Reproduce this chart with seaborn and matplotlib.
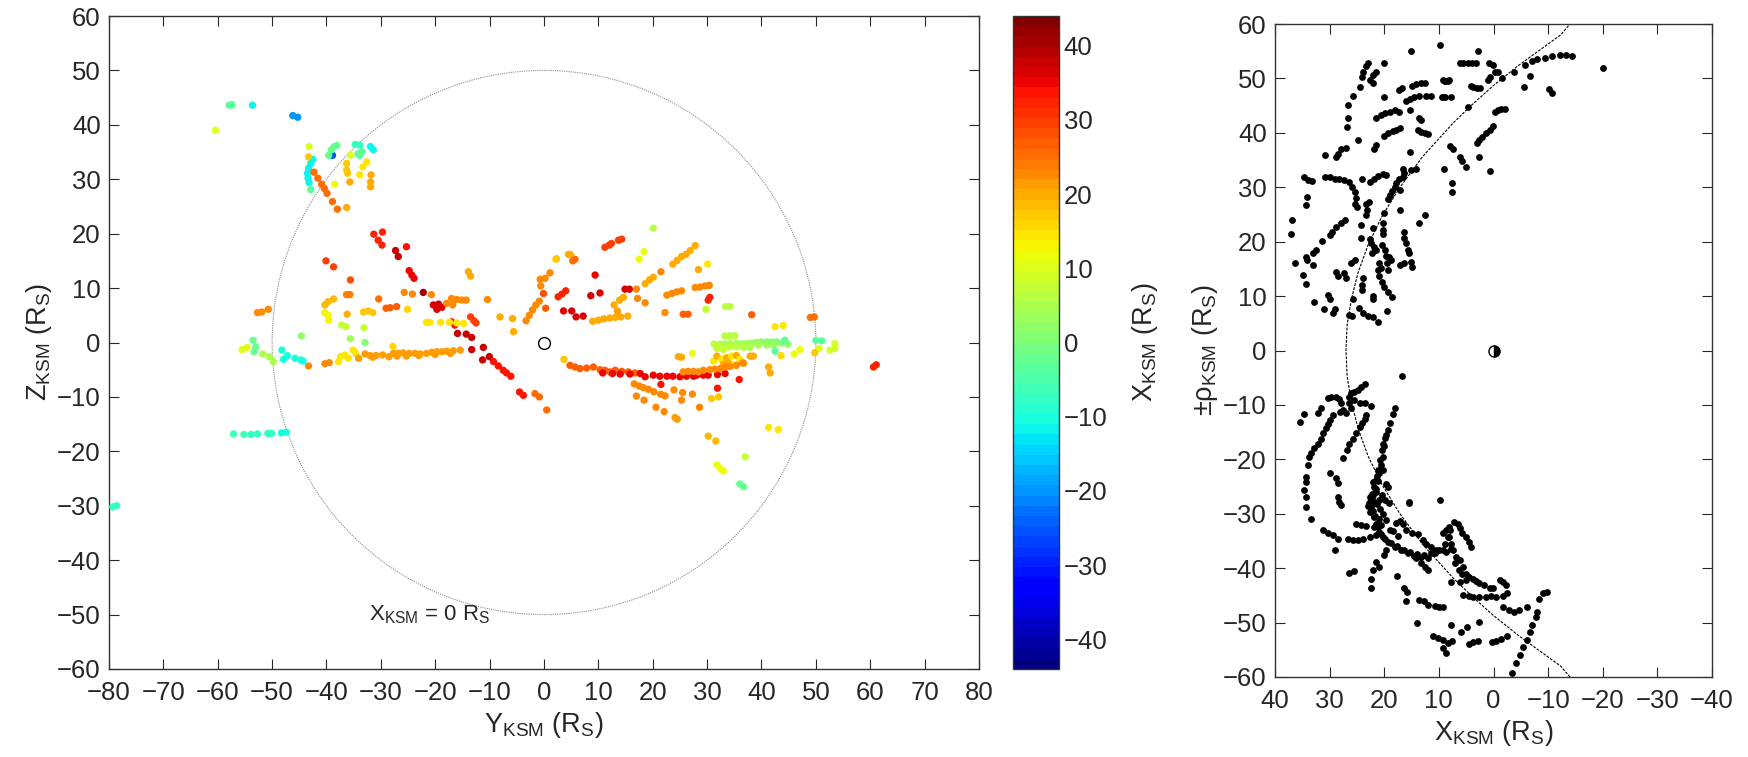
import numpy as np
import pandas as pd
import matplotlib
matplotlib.use("Agg")
import matplotlib.pyplot as plt
import seaborn as sns
from matplotlib.patches import Circle
from matplotlib.colors import ListedColormap, Normalize
from matplotlib.cm import ScalarMappable

# ---------------- data: left panel (Y_KSM, Z_KSM, colour = X_KSM) ----------------
y_top = [-60.4, -57.9, -57.4, -53.6, -46.2, -45.3]
z_top = [39.0, 43.6, 43.7, 43.6, 41.7, 41.4]
x_top = [10, -4, -4, -12, -20, -20]

y_clu = [-42.5, -42.9, -43.3, -43.5, -43.4, -43.2, -42.9, -43.2, -43.3,
         -42.3, -41.6, -40.9, -40.4, -39.9, -38.9, -38.0, -38.9,
         -39.6, -39.1, -38.6, -38.1, -38.5, -34.7, -33.9, -35.6,
         -34.2, -33.5, -33.9, -36.3, -36.3, -36.1, -35.7, -36.3,
         -33.9, -33.3, -32.6, -31.9, -31.4, -31.8, -31.9, -31.9]
z_clu = [33.65, 32.9, 32.0, 31.1, 30.2, 29.4, 28.1, 36.0, 34.1,
         31.3, 30.2, 29.1, 28.3, 27.4, 25.9, 24.5, 34.4,
         34.4, 35.4, 36.0, 36.2, 29.1, 36.4, 36.3, 34.4,
         34.7, 35.1, 34.4, 32.9, 31.7, 31.1, 29.5, 24.8,
         30.8, 32.3, 33.2, 36.0, 35.4, 30.8, 29.5, 28.6]
x_clu = ([-12] * 6 + [-3] + [10, 17] + [26] * 7 + [-25] + [-2] * 4 + [12] + [-7, -7] + [10]
         + [-3] * 3 + [17] * 3 + [20, 20] + [15] * 3 + [-12] * 2 + [20] * 3)

y_mid = [-31.3, -30.5, -29.8, -29.7, -27.3, -26.8, -25.3, -24.8, -24.3, -23.9,
         -40.1, -38.7, -35.6, -36.3, -35.7, -40.3, -39.7, -38.7, -40.3, -39.7, -39.6,
         -36.2, -37.2, -36.4, -33.1, -35.6, -44.6, -32.9, -52.7, -51.9, -50.7,
         -33.2, -32.3, -31.5, -30.4, -29.05, -28.3, -27.1, -25.1, -25.7, -24.2,
         -22.2, -20.7, -20.35, -19.4, -18.8, -19.7,
         -17.9, -17.0, -16.05, -15.1, -14.3, -16.8, -17.0, -16.4,
         -21.6, -21.0, -19.0, -17.4, -16.05, -14.8,
         -13.9, -13.5, -10.4, -13.5, -12.9, -12.5, -15.9, -14.3, -13.3,
         -13.3, -11.15, -11.3, -10.05, -9.3, -8.4, -7.5, -6.9, -6.1,
         -4.5, -3.8, -1.65, -0.85, 0.5, -8.1, -5.8, -5.6,
         -3.3, -2.7, -2.1, -1.5, -0.85, 0.3, -0.1, -0.6, -0.7, 0.2, 1.1, 2.2]
z_mid = [19.9, 18.8, 17.9, 20.3, 16.9, 15.8, 17.6, 13.2, 12.4, 11.8,
         15.0, 13.9, 11.5, 8.8, 8.8, 6.9, 7.5, 8.0, 5.5, 5.0, 4.1,
         5.2, 3.2, 2.9, 2.7, 0.7, 1.2, 0.0, 5.5, 5.6, 6.1,
         5.6, 5.8, 5.5, 8.0, 6.3, 6.4, 6.6, 6.1, 9.2, 8.9,
         9.2, 8.8, 6.9, 7.05, 6.45, 6.1,
         7.2, 8.1, 7.9, 7.8, 7.8, 6.9, 3.8, 3.2,
         3.7, 3.7, 3.7, 3.7, 3.6, 3.5,
         13.0, 12.2, 7.9, 4.7, 4.0, 3.6, 1.66, 1.54, 0.93,
         -1.3, -0.9, -3.2, -2.6, -3.5, -4.3, -5.1, -5.6, -6.2,
         -9.1, -9.7, -9.4, -10.0, -12.4, 4.7, 4.4, 2.0,
         4.0, 5.0, 6.0, 6.9, 7.6, 6.3, 9.0, 10.4, 11.6, 11.8, 12.8, 15.3]
x_mid = ([32] * 4 + [38, 38, 33] + [35] * 3 + [30, 30, 28] + [24, 24] + [18] * 3 + [13] * 3
         + [20] + [8] * 3 + [3, 2, 0] + [22] * 3 + [17] * 3 + [25] + [27] * 3 + [16] + [22, 22]
         + [40, 23] + [36] * 4 + [22] * 6 + [33, 33] + [15] * 6 + [20, 20, 22] + [30] * 3
         + [38] * 3 + [38] * 4 + [33] * 5 + [33, 33, 25, 25, 25] + [20] * 3
         + [22] * 5 + [27, 28] + [22] * 4 + [16])

y_band = [-43.3, -40.3, -39.5, -37.8, -37.4, -36.6, -36.0, -35.1, -34.6,
          -34.1, -32.9, -32.0, -30.9, -29.7, -27.7, -26.8, -25.9, -24.8, -23.7, -22.8,
          -21.6, -20.65, -19.7, -18.8, -17.9, -16.7, -15.4,
          -31.5, -28.5, -27.0, -25.3, -23.0, -20.0, -17.2, -27.8,
          -53.5, -53.0, -53.3, -55.5, -54.6, -51.7, -50.5, -49.8,
          -48.2, -47.2, -47.9, -45.8, -44.75, -44.3]
z_band = [-4.3, -3.9, -3.7, -3.5, -2.6, -2.3, -2.9, -1.4, -2.0,
          -2.9, -2.1, -2.4, -2.4, -2.3, -2.0, -2.0, -1.9, -2.0, -2.0, -2.1,
          -2.0, -1.8, -1.7, -1.7, -1.6, -1.5, -1.4,
          -2.7, -2.6, -2.5, -2.5, -2.4, -2.2, -2.0, -0.7,
          0.4, -0.8, -1.7, -1.3, -0.9, -2.1, -2.6, -3.5,
          -1.4, -2.4, -3.1, -2.9, -3.2, -3.4]
x_band = ([22] * 3 + [15] * 6 + [21] * 18 + [21] * 7 + [16]
          + [-2] * 3 + [10, 10] + [5] * 3 + [-10] * 3 + [-10] * 3)

y_east = [20.1, 11.2, 12.0, 12.4, 13.7, 14.3, 2.3, 4.5, 4.9, 5.3, 5.7, 18.4, 17.5,
          23.7, 24.5, 25.3, 26.1, 26.9, 27.8, 30.1, 28.4, 9.4, 21.5, 18.6, 19.4, 20.1,
          2.6, 3.3, 4.0, 8.6, 10.3, 14.9, 15.7, 17.0, 17.2, 18.6, 12.9, 13.9, 14.6,
          22.6, 23.5, 24.4, 25.3, 27.8, 28.7, 29.6, 30.4, 30.2, 30.5, 29.8, 33.4, 34.2,
          3.6, 5.1, 5.9, 7.2, 8.95, 10.0, 11.0, 12.1, 13.1, 14.1, 15.4, 13.5,
          22.25, 25.6, 26.5, 38.2, 49.0, 49.7, 42.5, 44.0]
z_east = [21.0, 17.5, 17.9, 18.2, 18.8, 19.0, 15.4, 16.2, 16.1, 15.0, 15.3, 16.7, 15.3,
          14.4, 15.1, 15.8, 16.2, 16.9, 17.8, 14.4, 13.4, 12.4, 13.0, 10.8, 11.5, 12.0,
          8.4, 8.9, 9.5, 8.6, 9.1, 9.8, 9.8, 9.8, 8.1, 7.3, 6.9, 7.8, 8.3,
          8.7, 9.0, 9.3, 9.5, 10.1, 10.2, 10.4, 10.5, 7.8, 8.3, 6.1, 6.6, 6.6,
          5.8, 5.8, 4.7, 4.85, 3.9, 4.1, 4.35, 4.5, 4.6, 4.7, 4.85, 5.8,
          5.5, 5.2, 5.2, 5.1, 4.6, 4.7, 2.9, 3.1]
x_east = ([6] + [30] * 3 + [29] * 2 + [17, 20, 20, 26, 26] + [12, 12] + [20] * 6 + [14, 20] + [35]
          + [22] + [20] * 3 + [32] * 3 + [37, 37] + [36, 36] + [22] * 3 + [20] * 3 + [22] * 8
          + [32, 32] + [7, 6, 6] + [36] * 4 + [20] * 7 + [21] + [23, 27, 27] + [27] + [25, 25] + [14, 14])

y_ring = [33.3, 34.2, 35.1,
          31.3, 32.4, 33.3, 34.2, 35.4, 36.4, 37.3, 38.2, 39.1, 40.0, 41.0, 41.9, 42.8, 43.7, 44.3, 44.8,
          31.8, 33.0, 34.2, 35.4, 36.7, 37.9, 39.4, 41.0, 42.2,
          42.5, 43.6, 46.0, 47.1, 50.0, 51.1, 50.6, 49.8, 52.6, 53.5, 53.5, 37.9, 38.5, 41.3, 41.6,
          31.2, 31.8, 32.7, 33.6, 34.5, 35.4, 36.0, 36.5, 33.9, 34.8, 33.0]
z_ring = [1.2, 1.25, 1.25,
          -0.3, -0.3, -0.3, -0.2, -0.2, -0.2, -0.2, -0.1, 0.0, 0.1, 0.1, 0.1, 0.1, -0.1, 0.4, -0.3,
          -1.1, -1.3, -0.8, -0.8, -0.9, -0.9, -0.5, -0.5, -0.5,
          -1.6, -2.4, -2.1, -1.3, 0.4, 0.3, -1.1, -1.9, -1.4, -1.1, -0.2, -2.5, -2.5, -4.5, -5.6,
          -3.4, -2.5, -3.1, -2.8, -2.5, -2.4, -3.1, -3.7, -3.7, -4.1, -4.0]
x_ring = ([6] * 3 + [6, 6, 5, 5, 4, 4, 3, 3, 2, 2, 1, 1, 0, 0, -3, 0]
          + [7, 7, 7, 6, 6, 5, 5, 4, 3]
          + [-4, 16, 12, 12, -4, -4, 10, 17, 9, 9, 9, 20, 20, 20, 20]
          + [14, 20, 14, 20, 14, 20, 14, 20, 20, 14, 20])

y_low = [3.67, 4.78, 5.7, 6.6, 7.85, 9.07, 10.3, 11.2, 12.1, 13.1, 14.3, 15.5, 16.7,
         10.8, 12.6, 14.0, 15.8, 17.7, 18.6, 20.1, 21.3, 22.6, 23.7, 25.0, 26.2, 27.5, 28.1, 29.3,
         30.2, 31.9, 33.3,
         25.6, 26.5, 27.5, 28.4, 29.3, 30.5, 31.4, 32.4, 33.3, 34.2, 35.4, 36.7,
         24.7, 25.3, 27.3, 21.5, 31.9, 35.9,
         16.6, 17.5, 18.3, 19.2, 20.2, 21.45, 22.25, 17.0, 18.4, 20.6, 22.1,
         23.9, 25.5, 25.3, 27.3, 28.6, 24.1, 24.5, 30.8, 32.1,
         30.2, 31.6, 41.3, 43.1, 37.0, 31.8, 32.4, 33.0, 36.0, 36.7, 60.6, 61.1]
z_low = [-3.1, -4.2, -4.5, -4.8, -4.7, -4.5, -5.0, -5.1, -5.4, -5.1, -5.3, -5.4, -5.6,
         -5.6, -5.7, -5.8, -5.8, -5.7, -6.3, -6.0, -6.2, -6.2, -6.2, -6.3, -6.2, -6.2, -6.0, -6.0,
         -6.0, -5.9, -5.7,
         -5.4, -5.3, -5.3, -5.4, -5.1, -5.0, -4.9, -4.8, -4.5, -4.4, -4.2, -3.8,
         -2.6, -2.7, -2.0, -7.7, -8.4, -6.8,
         -7.6, -8.0, -8.3, -8.6, -9.05, -9.5, -9.8, -9.85, -10.6, -11.9, -12.7,
         -8.7, -9.2, -10.6, -9.5, -11.9, -13.8, -14.1, -10.3, -10.0,
         -17.2, -18.1, -15.6, -16.0, -21.0, -22.5, -23.1, -23.6, -26.0, -26.5, -4.5, -4.1]
x_low = ([17] + [27] * 12 + [35] * 18 + [22] * 12 + [20, 20, 12] + [33] * 3
         + [22] * 11 + [22] * 5 + [21, 21] + [17, 17]
         + [19, 19, 15, 15, 7, 11, 11, 11, -2, -2, 32, 32])

y_south = [-57.1, -55.2, -53.9, -52.7, -50.8, -50.1, -48.3, -47.4, -79.3, -78.6]
z_south = [-16.8, -16.9, -16.9, -16.8, -16.7, -16.7, -16.6, -16.5, -30.2, -30.0]
x_south = [-6, -6, -7, -7, -8, -8, -10, -10, -7, -7]

# ---------------- data: right panel (X_KSM, +/- rho_KSM) ----------------
x_north = [15.1, 9.8, 23.0, 23.3, 23.8, 24.1, 24.5, 25.8, 26.7, 26.7, 26.8, 24.8,
           21.6, 22.1, 22.7, 22.0, 20.0, 20.0, 17.3, 16.7, 14.9, 14.2, 13.3, 12.6, 8.8, 8.4,
           16.0, 15.3, 14.5, 13.7, 12.3, 11.4, 9.3,
           21.6, 20.6, 19.8, 18.9, 18.1, 17.3, 15.3, 13.6, 13.3,
           20.0, 19.4, 18.4, 17.8, 17.1, 13.9, 13.3, 12.6, 12.0,
           7.9, 7.4, 6.1, 5.7, 5.0, 9.0, 7.6, 7.6,
           21.8, 21.5, 27.0, 27.9, 28.8, 28.5, 30.9,
           16.6, 16.3, 16.6, 15.1, 14.2, 15.3,
           30.8, 30.0, 29.1, 28.2, 27.3, 26.4, 25.9, 25.4, 25.1, 25.3, 25.0, 24.1,
           34.6, 34.0, 33.2, 34.2, 34.4, 22.7, 21.8, 21.2, 20.3, 19.7,
           23.3, 22.8, 23.2, 23.3,
           17.3, 17.8, 18.1, 18.5, 19.0, 19.3, 17.1, 17.1, 20.0, 12.6, 13.6,
           27.1, 27.9, 28.8, 29.5, 30.0, 31.4, 32.5, 33.1, 36.9, 37.0, 36.4,
           34.3, 34.2, 33.1, 34.8, 34.4, 24.2, 24.2, 22.0,
           22.6, 22.4, 21.8, 21.5, 22.2, 20.9, 20.6,
           20.3, 20.3, 20.2, 20.4, 19.9, 19.6, 19.5, 19.3, 19.1, 18.7,
           21.2, 20.9, 20.4, 20.0, 19.4, 18.6,
           16.3, 16.3, 16.0, 15.7, 15.5, 17.2, 16.3, 15.1, 14.9,
           25.4, 26.0, 28.8, 28.5, 27.3, 27.0,
           23.8, 24.1, 24.1, 22.1, 22.0,
           32.8, 31.1, 29.4, 29.1, 29.9, 30.3,
           25.8, 26.4, 25.9, 24.7, 23.9, 23.0, 22.1, 21.2, 19.5,
           2.8, 0.9, 0.05, -0.3, -0.8, -1.5, 1.0, 0.6, -3.8,
           -5.8, -7.0, -8.0, -9.4, -10.8, -12.2, -13.2, -14.3,
           -6.6, -5.6, -10.1, -10.8, -20.1,
           -0.3, -0.8, -1.4, -2.1, 0.04, 0.7, 1.4, 2.1, 2.7, 3.0, 2.7, 0.7,
           4.2, 3.7, 3.0, 2.5, 4.7, 6.2, 5.5, 4.6, 3.9, 3.2,
           9.3, 8.8, 8.1, 9.5, 8.8, 7.7]
r_north = [55.1, 56.2, 52.8, 52.2, 51.1, 50.3, 48.4, 46.8, 45.1, 42.8, 41.1, 38.7,
           51.2, 50.7, 49.8, 49.2, 52.8, 46.6, 47.9, 48.2, 48.6, 48.9, 49.1, 49.2, 49.6, 49.6,
           45.9, 46.3, 46.6, 46.8, 46.8, 46.8, 46.5,
           42.8, 43.3, 43.6, 43.8, 44.2, 43.9, 44.2, 42.7, 42.4,
           39.4, 39.9, 40.4, 40.6, 40.8, 40.5, 40.2, 39.9, 39.8,
           37.5, 37.0, 35.6, 34.8, 33.8, 33.3, 30.8, 29.2,
           37.0, 37.8, 37.3, 37.1, 35.6, 36.1, 35.9,
           33.3, 32.6, 31.9, 33.2, 33.4, 36.5,
           31.8, 31.8, 31.6, 31.5, 31.3, 31.0, 30.1, 29.2, 28.0, 27.0, 26.4, 31.5,
           31.9, 31.3, 31.2, 28.3, 26.7, 31.0, 31.6, 32.1, 32.4, 32.2,
           27.0, 27.3, 25.8, 24.9,
           31.6, 30.7, 30.1, 29.4, 28.6, 27.8, 29.5, 25.8, 25.2, 24.9, 23.4,
           23.9, 23.5, 22.7, 21.8, 21.2, 20.2, 18.5, 18.0, 23.9, 21.5, 16.1,
           17.2, 16.6, 15.7, 13.9, 12.3, 23.1, 20.6, 22.6,
           20.4, 19.7, 19.1, 18.5, 18.0, 16.0, 15.1,
           23.4, 22.2, 21.4, 19.4, 18.5, 17.3, 16.0, 14.8, 17.1, 16.6,
           14.8, 13.6, 12.6, 11.7, 10.8, 9.9,
           21.8, 20.6, 19.7, 18.5, 17.9, 15.7, 16.1, 16.3, 15.3,
           16.6, 16.0, 14.5, 13.6, 14.3, 13.3,
           13.3, 12.0, 11.1, 10.0, 9.4,
           9.0, 7.7, 6.8, 7.7, 9.4, 10.2,
           9.4, 6.5, 6.3, 7.9, 6.8, 6.3, 6.1, 5.3, 7.3,
           55.0, 52.8, 52.4, 51.2, 51.1, 50.0, 49.8, 50.2, 51.2,
           52.5, 53.2, 53.5, 53.8, 54.1, 54.3, 54.3, 54.2,
           50.4, 48.4, 48.0, 47.4, 52.0,
           43.9, 44.2, 44.3, 44.4, 41.3, 40.5, 39.9, 39.2, 38.7, 38.1, 35.6, 32.9,
           48.6, 48.4, 48.2, 48.2, 44.7, 52.8, 52.8, 52.9, 52.9, 52.9,
           49.7, 49.5, 49.8, 46.5, 46.5, 46.5]

x_south_r = [16.7, 23.6, 24.2, 24.8, 25.5, 26.1, 26.4, 26.5, 26.1,
             30.3, 29.7, 28.8, 28.2, 27.9, 27.5, 27.0, 28.1, 25.5, 24.5, 23.6, 22.4,
             31.6, 32.2, 34.6, 35.5,
             29.4, 30.0, 30.3, 30.6, 31.2, 31.5, 32.2, 32.8, 33.4, 33.8, 34.0, 34.3, 34.4, 34.6, 34.4, 34.4, 33.4,
             23.3, 23.6, 24.0, 24.5, 25.1, 25.8, 26.4, 26.8, 27.5,
             18.1, 18.4, 18.9, 19.3, 19.9, 20.2, 20.5, 20.8, 21.1, 21.5, 21.8, 22.2, 22.7, 22.8, 22.4,
             21.8, 21.5, 20.9, 20.2, 19.4, 18.1, 16.9, 15.7, 14.5, 13.3, 12.0, 10.8, 9.9, 8.7, 7.7,
             21.3, 22.0, 21.6, 22.3, 21.4, 20.8, 20.2, 19.6, 18.4, 17.5, 20.5, 21.0, 22.6, 21.0, 19.0,
             20.3, 19.7, 22.0, 21.9, 22.5, 21.2, 20.6,
             19.7, 20.0, 20.3, 20.6, 20.9, 21.2, 21.5, 22.0, 22.5, 22.9, 22.0, 21.7, 21.9, 20.6,
             19.8, 18.8, 17.6, 16.4, 15.2, 14.0, 12.8, 11.5,
             30.0, 28.8, 28.5, 28.5, 28.2, 27.9, 19.3, 19.9, 19.2, 15.5, 15.4, 9.8,
             31.2, 30.3, 29.4, 28.5, 29.1, 26.7, 25.8, 24.8, 23.9, 22.7, 21.5, 25.1, 24.2, 23.3,
             17.8, 17.1, 16.6, 16.0, 14.9, 13.9, 12.95, 12.35, 11.4, 10.5, 9.3,
             9.3, 8.7, 8.1, 7.2, 6.5, 6.2, 5.7, 5.0, 4.5, 4.1,
             8.1, 7.8, 7.5, 6.8, 6.1, 5.6, 14.2, 13.3, 12.6, 12.0,
             21.5, 21.0, 22.1, 19.6, 20.0, 26.4, 25.5, 22.4, 22.4, 17.7,
             5.0, 4.4, 3.8, 3.2, 2.6, 1.7, 0.7, 0.1, 7.7, 6.2,
             5.6, 4.4, 3.7, 2.6, 1.35, 0.4, -0.5, -1.7, -1.1, -1.7, -2.3,
             16.3, 15.9, 16.0, 13.6, 12.8, 11.9, 10.8, 9.9, 9.3,
             14.0, 7.7, 5.9, 4.9, 2.6, 11.0, 10.2, 9.3, 8.4, 7.6, 9.3, 8.7,
             4.5, 3.7, 2.9, 0.25, -0.5, -1.4, -2.4,
             -2.4, -1.7, -2.9, -3.8, -4.7, -6.2, -8.3, -9.1, -9.8,
             -8.0, -7.7, -7.0, -6.6, -6.1, -5.4, -4.85, -4.2, -3.3,
             5.1, 5.8, 6.3, 7.0, 7.9, 8.4, 8.8]
r_south_r = [-4.7, -6.2, -6.7, -7.2, -7.6, -7.9, -8.5, -9.7, -10.6,
             -8.8, -8.5, -8.6, -9.0, -9.7, -10.95, -11.45, -11.3, -9.1, -9.7, -9.7, -10.2,
             -10.5, -11.45, -11.6, -13.1,
             -11.9, -12.8, -13.5, -14.3, -15.2, -16.2, -17.1, -18.0, -18.9, -19.5, -21.1, -23.2, -24.1, -25.7, -26.9, -28.7, -30.9,
             -11.9, -12.5, -13.3, -14.0, -15.1, -16.2, -17.1, -18.2, -19.8,
             -10.5, -11.7, -13.3, -14.6, -16.0, -17.1, -18.3, -20.2, -22.0, -23.8, -25.1, -26.3, -26.9, -28.1, -29.3,
             -30.6, -31.8, -33.3, -34.2, -35.2, -36.1, -36.7, -37.2, -37.8, -37.9, -38.2, -37.3, -36.7, -37.0, -36.4,
             -23.0, -24.2, -26.0, -27.3, -28.2, -29.1, -30.0, -31.2, -33.1, -34.0, -26.5, -27.5, -29.6, -31.0, -33.0,
             -22.0, -24.5, -27.9, -30.5, -28.8, -32.5, -32.0,
             -15.5, -17.5, -19.5, -21.0, -22.5, -24.0, -25.5, -26.5, -27.5, -28.5, -29.5, -30.5, -32.5, -33.8,
             -34.6, -35.4, -36.0, -36.6, -37.0, -37.4, -37.5, -37.3,
             -22.6, -23.5, -24.4, -26.9, -27.8, -28.4, -25.1, -27.5, -28.1, -27.8, -28.1, -27.5,
             -33.0, -33.5, -33.9, -34.6, -36.6, -34.7, -34.9, -34.9, -34.7, -34.2, -33.9, -31.8, -32.1, -32.3,
             -31.7, -31.3, -31.8, -33.0, -33.5, -33.8, -34.9, -35.5, -36.1, -36.7, -36.7,
             -33.5, -33.0, -32.4, -31.5, -31.8, -32.7, -33.5, -34.2, -35.2, -36.1,
             -34.3, -35.5, -36.7, -37.9, -38.5, -39.8, -38.2, -39.1, -39.8, -40.4,
             -38.8, -39.8, -40.4, -36.7, -37.6, -40.9, -40.5, -41.9, -43.6, -41.5,
             -41.0, -41.6, -41.9, -42.3, -42.8, -43.1, -43.6, -43.7, -42.5, -42.5,
             -45.0, -45.2, -45.3, -45.3, -45.3, -45.2, -45.3, -45.2, -42.2, -42.5, -43.1,
             -43.7, -44.4, -46.0, -45.8, -46.0, -46.8, -47.0, -47.1, -47.1,
             -50.1, -50.5, -51.7, -50.8, -49.9, -52.4, -52.9, -53.2, -53.7, -53.4, -54.6, -55.6,
             -53.9, -53.6, -53.4, -53.5, -53.4, -53.0, -52.5,
             -44.6, -47.1, -47.7, -48.0, -47.7, -47.1, -45.7, -44.6, -44.3,
             -48.0, -48.9, -50.5, -51.7, -53.2, -54.4, -56.0, -57.5, -59.3,
             -42.2, -41.1, -40.4, -39.1, -33.0, -34.2, -35.5]

# model magnetopause
mp_x = [-14.0, -12.3, -4.6, 0.0, 3.9, 7.4, 13.0, 17.2, 20.5, 23.0, 24.8, 26.0, 26.8, 27.0,
        26.8, 26.0, 24.8, 23.0, 20.5, 17.2, 13.0, 7.4, 3.9, 0.0, -4.6, -12.3, -14.0]
mp_rho = [-60.0, -58.0, -52.4, -48.7, -45.2, -41.8, -35.6, -29.9, -24.5, -19.3, -14.3, -9.5, -4.7, 0.0,
          4.7, 9.5, 14.3, 19.3, 24.5, 29.9, 35.6, 41.8, 45.2, 48.7, 52.4, 58.0, 60.0]

y_ticks = list(range(-80, 81, 10))
z_ticks = list(range(-60, 61, 10))
xr_ticks = list(range(-40, 41, 10))
cb_ticks = list(range(-40, 41, 10))

# ---------------- assemble ----------------
left = pd.DataFrame({
    "Y": y_top + y_clu + y_mid + y_band + y_east + y_ring + y_low + y_south,
    "Z": z_top + z_clu + z_mid + z_band + z_east + z_ring + z_low + z_south,
    "X": x_top + x_clu + x_mid + x_band + x_east + x_ring + x_low + x_south,
})
right = pd.DataFrame({"X": x_north + x_south_r, "rho": r_north + r_south_r})
mp = pd.DataFrame({"X": mp_x, "rho": mp_rho})

sns.set_style("ticks")
plt.rcParams["font.family"] = ["Liberation Sans", "DejaVu Sans"]
plt.rcParams["mathtext.fontset"] = "custom"
plt.rcParams["mathtext.rm"] = "Liberation Sans"
plt.rcParams["mathtext.it"] = "Liberation Sans:italic"
plt.rcParams["axes.linewidth"] = 1.0
plt.rcParams["axes.edgecolor"] = "#333333"

cmap = ListedColormap(plt.get_cmap("jet")(np.linspace(0, 1, 64)))
norm = Normalize(vmin=-44, vmax=44)

fig = plt.figure(figsize=(17.49, 7.57), dpi=100)
ax1 = fig.add_axes([109 / 1749, 1 - 669 / 757, 870 / 1749, 653 / 757])
cax = fig.add_axes([1013 / 1749, 1 - 669 / 757, 46 / 1749, 653 / 757])
ax2 = fig.add_axes([1275 / 1749, 1 - 677 / 757, 437 / 1749, 653 / 757])

FS = 18.5

# left panel
ax1.add_patch(Circle((0, 0), 50, fill=False, ls=(0, (1, 1)), lw=0.8, ec="0.55", zorder=1))
sns.scatterplot(data=left, x="Y", y="Z", hue="X", palette=cmap, hue_norm=norm,
                s=28, linewidth=0, legend=False, ax=ax1, zorder=3)
ax1.plot([0], [0], marker="o", ms=8.5, mfc="white", mec="black", mew=1.0, zorder=4)
ax1.text(-21, -50, r"X$_{\mathrm{KSM}}$ = 0 R$_{\mathrm{S}}$", fontsize=16, ha="center", va="center")
ax1.set_xlim(-80, 80)
ax1.set_ylim(-60, 60)
ax1.set_xticks(y_ticks)
ax1.set_yticks(z_ticks)
ax1.set_xlabel(r"Y$_{\mathrm{KSM}}$ (R$_{\mathrm{S}}$)", fontsize=FS + 1, labelpad=3)
ax1.set_ylabel(r"Z$_{\mathrm{KSM}}$ (R$_{\mathrm{S}}$)", fontsize=FS + 1, labelpad=2)

# colorbar
sm = ScalarMappable(norm=norm, cmap=cmap)
cb = fig.colorbar(sm, cax=cax, ticks=cb_ticks)
cb.outline.set_linewidth(1.0)
cb.ax.tick_params(labelsize=FS, direction="in", length=6, width=0.8)
cb.set_label(r"X$_{\mathrm{KSM}}$ (R$_{\mathrm{S}}$)", fontsize=FS + 1, labelpad=16)

# right panel
sns.lineplot(data=mp, x="X", y="rho", sort=False, estimator=None, color="black",
             lw=0.8, ls=(0, (2.5, 1.2)), ax=ax2, zorder=2)
sns.scatterplot(data=right, x="X", y="rho", color="black", s=24, linewidth=0,
                legend=False, ax=ax2, zorder=3)
ax2.plot([0], [0], marker="o", ms=8, fillstyle="right", mfc="black", mfcalt="white",
         mec="black", mew=1.0, zorder=4)
ax2.set_xlim(40, -40)
ax2.set_ylim(-60, 60)
ax2.set_xticks(xr_ticks)
ax2.set_yticks(z_ticks)
ax2.set_xlabel(r"X$_{\mathrm{KSM}}$ (R$_{\mathrm{S}}$)", fontsize=FS + 1, labelpad=3)
ax2.set_ylabel("±ρ" + r"$_{\mathrm{KSM}}$ (R$_{\mathrm{S}}$)", fontsize=FS + 1, labelpad=2)

for ax in (ax1, ax2):
    ax.tick_params(direction="in", top=True, right=True, length=7, width=0.8,
                   labelsize=FS)
    ax.tick_params(axis="x", pad=9)
    ax.tick_params(axis="y", pad=6)
    for sp in ax.spines.values():
        sp.set_visible(True)

fig.savefig("out.png", dpi=100)
